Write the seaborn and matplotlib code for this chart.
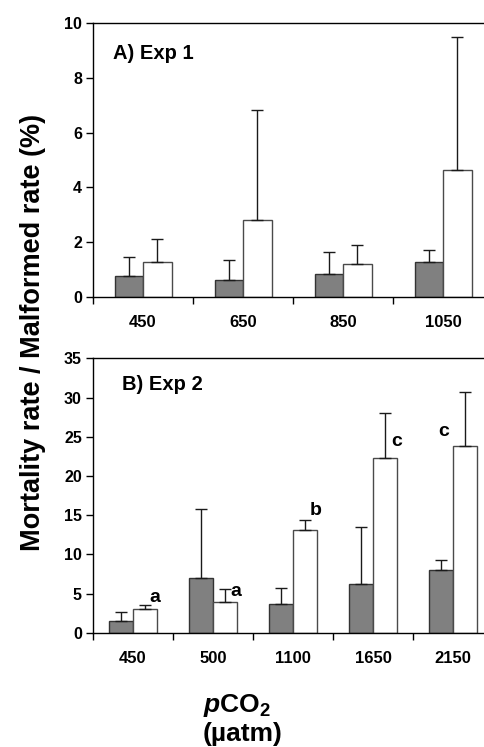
import numpy as np
import pandas as pd
import matplotlib
matplotlib.use('Agg')
import matplotlib.pyplot as plt
import seaborn as sns

# ---------------- data ----------------
exp1_co2 = ['450', '650', '850', '1050']
exp1_mort = [0.78, 0.63, 0.85, 1.26]
exp1_mort_err = [0.67, 0.71, 0.78, 0.47]
exp1_malf = [1.26, 2.82, 1.22, 4.62]
exp1_malf_err = [0.87, 4.01, 0.68, 4.87]

exp2_co2 = ['450', '500', '1100', '1650', '2150']
exp2_mort = [1.49, 6.98, 3.70, 6.21, 7.95]
exp2_mort_err = [1.15, 8.82, 1.96, 7.32, 1.28]
exp2_malf = [3.02, 3.87, 13.06, 22.29, 23.86]
exp2_malf_err = [0.55, 1.66, 1.36, 5.78, 6.81]
exp2_letters = ['a', 'a', 'b', 'c', 'c']

series = ['Mortality', 'Malformed']

sns.set_style('ticks')
plt.rcParams['font.family'] = ['Liberation Sans', 'DejaVu Sans']
plt.rcParams['font.weight'] = 'bold'
plt.rcParams['text.color'] = 'black'
plt.rcParams['axes.labelcolor'] = 'black'
plt.rcParams['xtick.color'] = 'black'
plt.rcParams['ytick.color'] = 'black'
plt.rcParams['mathtext.fontset'] = 'custom'
plt.rcParams['mathtext.rm'] = 'Liberation Sans:bold'
plt.rcParams['mathtext.it'] = 'Liberation Sans:italic:bold'
plt.rcParams['mathtext.bf'] = 'Liberation Sans:bold'

fig = plt.figure(figsize=(4.84, 7.47), dpi=100)
axA = fig.add_axes([93/484, 1-297/747, 400/484, 274/747])
axB = fig.add_axes([93/484, 1-632.7/747, 400/484, 274.4/747])


def panel(ax, cats, mort, mort_err, malf, malf_err, ymax, ystep, width):
    df = pd.DataFrame({
        'co2': cats * 2,
        'series': [series[0]] * len(cats) + [series[1]] * len(cats),
        'value': list(mort) + list(malf),
    })
    sns.barplot(data=df, x='co2', y='value', hue='series', order=cats,
                hue_order=series, palette=['#808080', '#ffffff'],
                errorbar=None, width=width, legend=False, ax=ax,
                saturation=1)
    edges = ['#333333', '#4a4a4a']
    errs = [mort_err, malf_err]
    for cont, ec, err in zip(ax.containers, edges, errs):
        xs, ys = [], []
        for bar in cont:
            bar.set_edgecolor(ec)
            bar.set_linewidth(1.0)
            xs.append(bar.get_x() + bar.get_width() / 2)
            ys.append(bar.get_height())
        ax.errorbar(xs, ys, yerr=[np.zeros(len(err)), err], fmt='none',
                    ecolor='#1a1a1a', elinewidth=1.0, capsize=4.5,
                    capthick=1.0, zorder=1)
    n = len(cats)
    ax.set_xlim(-0.5, n - 0.5)
    ax.set_ylim(0, ymax)
    ax.set_yticks(np.arange(0, ymax + 0.01, ystep))
    ax.set_xticks(range(n))
    ax.set_xticklabels(cats)
    ax.set_xticks(np.arange(-0.5, n, 1.0), minor=True)
    ax.tick_params(axis='x', which='major', length=0, pad=13, labelsize=12)
    ax.tick_params(axis='x', which='minor', length=5, width=1, direction='out', color='black')
    ax.tick_params(axis='y', length=5, width=1, direction='out', labelsize=11.5, pad=3, color='black')
    for lab in ax.get_xticklabels() + ax.get_yticklabels():
        lab.set_fontweight('bold')
        lab.set_color('black')
    for s in ax.spines.values():
        s.set_visible(True)
        s.set_color('black')
        s.set_linewidth(1.0)
    ax.set_xlabel('')
    ax.set_ylabel('')


panel(axA, exp1_co2, exp1_mort, exp1_mort_err, exp1_malf, exp1_malf_err, 10, 2, 0.57)
panel(axB, exp2_co2, exp2_mort, exp2_mort_err, exp2_malf, exp2_malf_err, 35, 5, 0.59)

axA.text(0.05, 0.89, 'A) Exp 1', transform=axA.transAxes, fontsize=14.5,
         fontweight='bold', va='center', ha='left')
axB.text(0.0725, 0.903, 'B) Exp 2', transform=axB.transAxes, fontsize=14.5,
         fontweight='bold', va='center', ha='left')

letter_pos = [(0.27, 4.5), (0.28, 5.3), (0.28, 15.6), (0.29, 24.4), (-0.12, 25.6)]
for i, (lab, (dx, yy)) in enumerate(zip(exp2_letters, letter_pos)):
    axB.text(i + dx, yy, lab, fontsize=14, fontweight='bold', ha='center', va='center')

fig.text(0.068, 1 - 332/747, 'Mortality rate / Malformed rate (%)', rotation=90,
         fontsize=19.5, fontweight='bold', ha='center', va='center')
fig.text(237/484, 1 - 712/747, r'$\it{p}\mathrm{CO}_2$', fontsize=19,
         ha='center', va='baseline')
fig.text(243/484, 1 - 741/747, '(µatm)', fontsize=19, fontweight='bold',
         ha='center', va='baseline')

fig.savefig('out.png', dpi=100)
